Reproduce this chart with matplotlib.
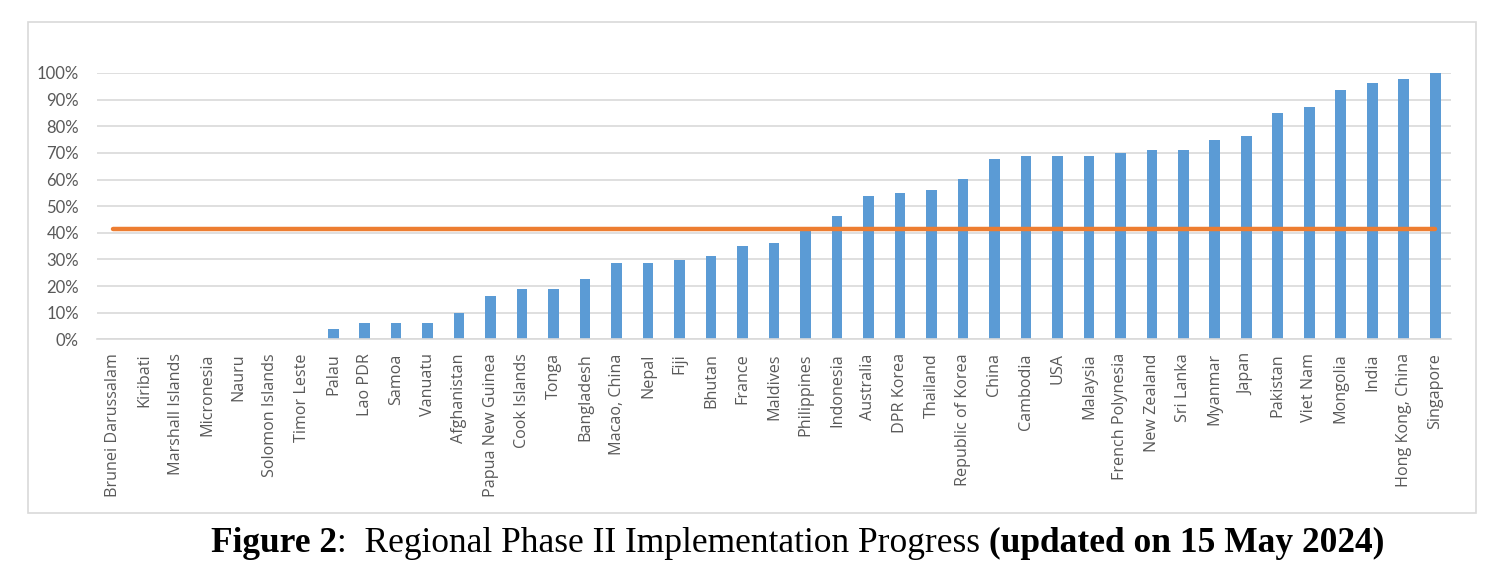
import numpy as np
import matplotlib
matplotlib.use("Agg")
import matplotlib.pyplot as plt
from matplotlib.patches import Rectangle
from matplotlib.ticker import PercentFormatter

# DATA
countries = ["Brunei Darussalam", "Kiribati", "Marshall Islands", "Micronesia", "Nauru",
             "Solomon Islands", "Timor Leste", "Palau", "Lao PDR", "Samoa", "Vanuatu",
             "Afghanistan", "Papua New Guinea", "Cook Islands", "Tonga", "Bangladesh",
             "Macao, China", "Nepal", "Fiji", "Bhutan", "France", "Maldives", "Philippines",
             "Indonesia", "Australia", "DPR Korea", "Thailand", "Republic of Korea", "China",
             "Cambodia", "USA", "Malaysia", "French Polynesia", "New Zealand", "Sri Lanka",
             "Myanmar", "Japan", "Pakistan", "Viet Nam", "Mongolia", "India",
             "Hong Kong, China", "Singapore"]
progress = [0.0, 0.0, 0.0, 0.0, 0.0, 0.0, 0.0, 0.038, 0.061, 0.061, 0.061,
            0.10, 0.163, 0.188, 0.188, 0.225, 0.288, 0.288, 0.298, 0.312, 0.35, 0.36, 0.41,
            0.462, 0.538, 0.548, 0.562, 0.601, 0.677, 0.687, 0.687, 0.687, 0.701, 0.711,
            0.711, 0.75, 0.763, 0.851, 0.874, 0.937, 0.962, 0.976, 1.0]
regional_avg = 0.414
yticks = np.arange(0, 1.01, 0.1)

caption_parts = [("Figure 2", "bold"),
                 (":  Regional Phase II Implementation Progress ", "normal"),
                 ("(updated on 15 May 2024)", "bold")]

W, H = 1510, 564
fig = plt.figure(figsize=(W / 100, H / 100), dpi=100)

# chart frame (Excel style)
fig.patches.append(Rectangle((28 / W, 1 - 513 / H), (1476 - 28) / W, (513 - 22) / H,
                             transform=fig.transFigure, fill=False,
                             edgecolor="#d9d9d9", linewidth=1.2, zorder=0))

ax = fig.add_axes([97 / W, 1 - 339.3 / H, (1451 - 97) / W, (339.3 - 73) / H])

x = np.arange(len(countries))
ax.bar(x, progress, width=0.34, color="#5b9bd5", zorder=2)
ax.plot([x[0], x[-1]], [regional_avg, regional_avg], color="#ed7d31",
        linewidth=3.2, solid_capstyle="round", zorder=3)

ax.set_xlim(-0.5, len(countries) - 0.5)
ax.set_ylim(0, 1)
ax.set_yticks(yticks)
ax.yaxis.set_major_formatter(PercentFormatter(1.0, decimals=0))
ax.grid(axis="y", color="#d9d9d9", linewidth=1.2, zorder=0)
ax.set_axisbelow(True)
for s in ["top", "right", "left"]:
    ax.spines[s].set_visible(False)
ax.spines["bottom"].set_color("#d9d9d9")
ax.spines["bottom"].set_linewidth(1.2)

ax.set_xticks(x)
ax.set_xticklabels(countries, rotation=90, fontsize=11.6, family="Open Sans",
                   color="#595959", va="top", ha="center")
ax.tick_params(axis="x", length=0, pad=10)
ax.tick_params(axis="y", length=0, pad=13, labelsize=12, labelcolor="#595959")
for lbl in ax.get_yticklabels():
    lbl.set_family("Lato")

# caption built from pieces with different weights
fig.canvas.draw()
renderer = fig.canvas.get_renderer()
texts = []
for s, w in caption_parts:
    t = fig.text(0, 0.036, s, fontsize=25.5, family="Liberation Serif", weight=w,
                 ha="left", va="center", color="black")
    texts.append(t)
widths = [t.get_window_extent(renderer).width for t in texts]
xpos = 798 - sum(widths) / 2
for t, wdt in zip(texts, widths):
    t.set_x(xpos / W)
    xpos += wdt

fig.savefig("out.png", dpi=100)
